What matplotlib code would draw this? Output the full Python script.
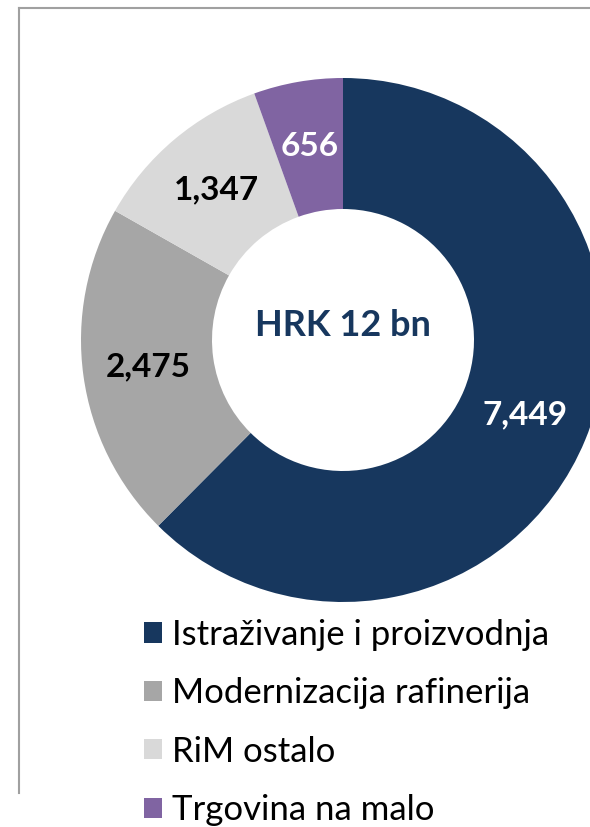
import matplotlib.pyplot as plt
from matplotlib.lines import Line2D
from matplotlib.patches import Patch

# investment split, HRK mn
segments = ["Istraživanje i proizvodnja", "Modernizacija rafinerija",
            "RiM ostalo", "Trgovina na malo"]
values = [7449, 2475, 1347, 656]
colors = ["#17375E", "#A6A6A6", "#D9D9D9", "#8064A2"]
label_colors = ["white", "black", "black", "white"]
center_text = "HRK 12 bn"

W, H = 590, 827
fig = plt.figure(figsize=(W / 100, H / 100), dpi=100)
ax = fig.add_axes([0, 0, 1, 1])

cx, cy = 343, H - 340
r_out, r_in = 262, 131

wedges, texts = ax.pie(
    values,
    labels=[f"{v:,}" for v in values],
    colors=colors,
    startangle=90,
    counterclock=False,
    center=(cx, cy),
    radius=r_out,
    labeldistance=(r_out + r_in) / 2 / r_out,
    wedgeprops=dict(width=r_out - r_in, linewidth=0),
    frame=True,
)
ax.set_xlim(0, W)
ax.set_ylim(0, H)
ax.set_aspect("equal")
ax.axis("off")

for t, c in zip(texts, label_colors):
    t.set_ha("center")
    t.set_va("center")
    t.set_color(c)
    t.set_fontsize(24)
    t.set_fontweight("bold")
    t.set_family("Lato")

# centre caption sits a bit above the ring's centre
ax.text(cx, cy + 14, center_text, ha="center", va="center", fontsize=26,
        fontweight="bold", color="#17375E", family="Lato")

# frame lines (partial border)
fig.add_artist(Line2D([19 / W, 1], [1 - 8 / H, 1 - 8 / H], color="#A0A0A0", lw=1.5))
fig.add_artist(Line2D([19 / W, 19 / W], [1 - 8 / H, 1 - 793 / H], color="#A0A0A0", lw=1.5))

handles = [Patch(facecolor=c, edgecolor="none") for c in colors]
fig.legend(handles, segments, loc="upper left",
           bbox_to_anchor=(130 / W, 1 - 605 / H), frameon=False,
           prop=dict(family="Lato", size=25), handlelength=0.52, handleheight=0.52,
           handletextpad=0.3, labelspacing=0.76, borderaxespad=0)

fig.savefig("out.png", dpi=100)
